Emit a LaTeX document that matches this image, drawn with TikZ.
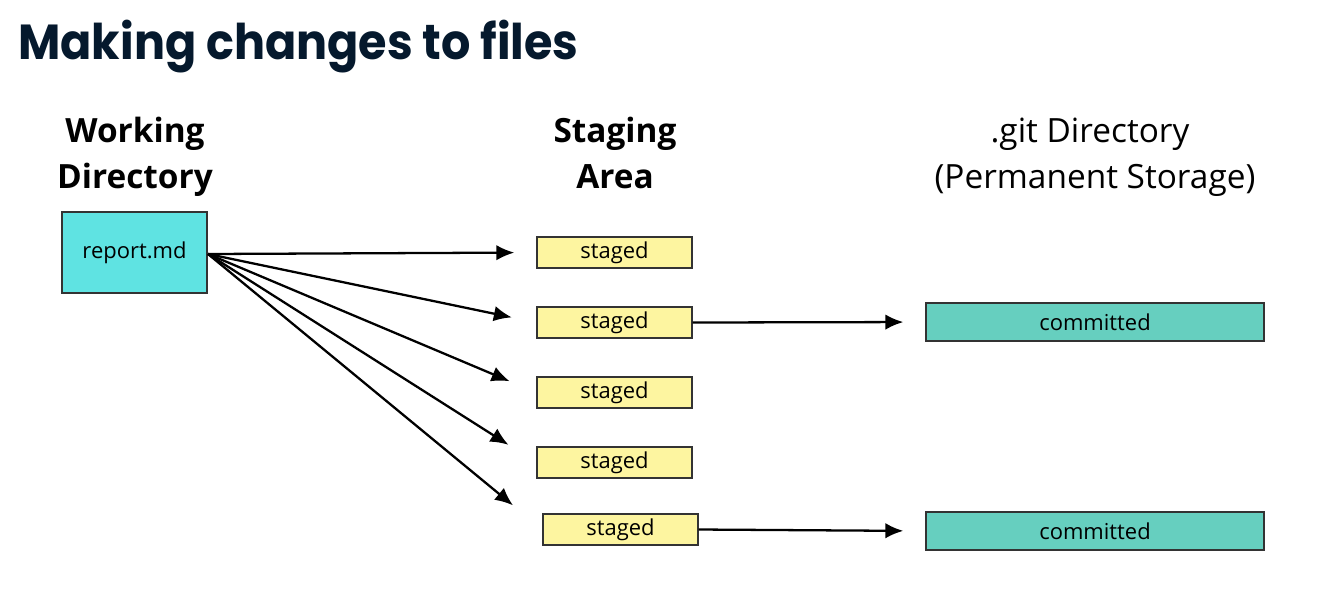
\documentclass[tikz,border=0pt]{standalone}
\usepackage{fontspec}
\setmainfont{Open Sans}
\newfontfamily\titlefont{Poppins}[FakeStretch=0.937]
\usetikzlibrary{arrows.meta,positioning}
\definecolor{navy}{HTML}{05192D}
\definecolor{workfill}{HTML}{5FE3E2}
\definecolor{stagefill}{HTML}{FDF5A0}
\definecolor{commitfill}{HTML}{66CFBF}
\definecolor{boxline}{HTML}{333333}
\tikzset{
  filebox/.style={draw=boxline, line width=0.8pt, inner sep=0pt, font=\fontsize{12.5}{14}\selectfont},
  stagebox/.style={filebox, fill=stagefill, minimum width=3.1cm, minimum height=0.62cm},
  commitbox/.style={filebox, fill=commitfill, minimum width=6.76cm, minimum height=0.76cm},
  heading/.style={anchor=base, inner sep=0pt, font=\fontsize{19}{24}\selectfont},
  flow/.style={line width=1.3pt, -{Latex[length=3.6mm,width=3.1mm]}}
}
\begin{document}
\begin{tikzpicture}[x=0.02cm, y=-0.02cm]
	\useasboundingbox (0,0) rectangle (1318,593);
	%Title
	\node [anchor=base west, inner sep=0pt, text=navy] (title) at (18,59) {\titlefont\fontsize{28}{30}\selectfont\bfseries Making changes to files};
	%Column headings
	\node [heading] (hwork1) at (135,142) {\bfseries Working};
	\node [heading] (hwork2) at (135,188) {\bfseries Directory};
	\node [heading] (hstage1) at (615,142) {\bfseries Staging};
	\node [heading] (hstage2) at (615,188) {\bfseries Area};
	\node [heading] (hgit1) at (1090,142) {.git Directory};
	\node [heading] (hgit2) at (1095,188) {(Permanent Storage)};
	%Working directory file
	\node [filebox, fill=workfill, minimum width=2.9cm, minimum height=1.62cm] (report) at (134.5,252.5) {report.md};
	%Staged copies
	\node [stagebox] (staged1) at (614.5,252.5) {staged};
	\node [stagebox] (staged2) at (614.5,322.5) {staged};
	\node [stagebox] (staged3) at (614.5,392.5) {staged};
	\node [stagebox] (staged4) at (614.5,462.5) {staged};
	\node [stagebox] (staged5) at (620.5,529.5) {staged};
	%Committed copies
	\node [commitbox] (commit1) at (1095,322) {committed};
	\node [commitbox] (commit2) at (1095,531) {committed};
	%Arrows into the staging area
	\coordinate (out) at (208,254);
	\foreach \i/\s in {1/0.44cm,2/0.5cm,3/0.58cm,4/0.66cm,5/0.76cm} {
		\draw [flow, shorten >=\s] (out) -- (staged\i.west);
	}
	%Arrows into the .git directory
	\draw [flow, shorten >=0.44cm] (staged2.east) -- (commit1.west);
	\draw [flow, shorten >=0.44cm] (staged5.east) -- (commit2.west);
\end{tikzpicture}
\end{document}
